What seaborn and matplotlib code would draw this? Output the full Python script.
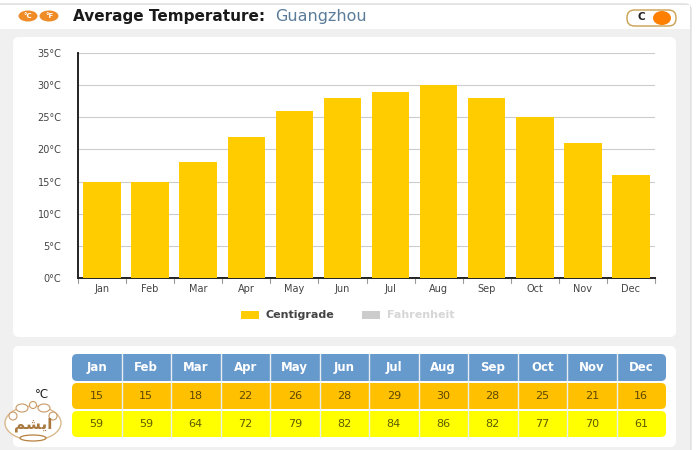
import numpy as np
import pandas as pd
import matplotlib
matplotlib.use("Agg")
import matplotlib.pyplot as plt
import seaborn as sns
from matplotlib.patches import FancyBboxPatch, Rectangle, Ellipse

MONTHS = ["Jan", "Feb", "Mar", "Apr", "May", "Jun", "Jul", "Aug", "Sep", "Oct", "Nov", "Dec"]
CENTIGRADE = [15, 15, 18, 22, 26, 28, 29, 30, 28, 25, 21, 16]
FAHRENHEIT = [59, 59, 64, 72, 79, 82, 84, 86, 82, 77, 70, 61]
YTICKS = [0, 5, 10, 15, 20, 25, 30, 35]

W, H = 700, 450
GOLD = "#ffcc00"

sns.set_theme(style="white")
plt.rcParams["font.family"] = ["DejaVu Sans"]

fig = plt.figure(figsize=(7, 4.5), dpi=100, facecolor="white")

# page layer in pixel coordinates
bg = fig.add_axes([0, 0, 1, 1], zorder=0)
bg.set_xlim(0, W)
bg.set_ylim(H, 0)
bg.axis("off")


def box(ax, x0, y0, x1, y1, color, r=4, ec="none", lw=0, z=1):
    ax.add_patch(FancyBboxPatch((x0 + r, y0 + r), x1 - x0 - 2 * r, y1 - y0 - 2 * r,
                                boxstyle=f"round,pad={r},rounding_size={r}",
                                fc=color, ec=ec, lw=lw, zorder=z))


box(bg, -10, 4, 691, 470, "#f0f0f0", r=6, ec="#dddddd", lw=1)
bg.add_patch(Rectangle((0, 5), 690, 24, fc="white", ec="none", zorder=1.2))
box(bg, 13, 37, 676, 337, "white", r=6, z=2)
box(bg, 13, 346, 676, 447, "white", r=6, z=2)

# header
for cx, s in zip([28, 49], ["°C", "°F"]):
    bg.add_patch(Ellipse((cx, 16), 19, 11, fc="#f08c28", ec="none", zorder=3))
    bg.text(cx, 16, s, ha="center", va="center", fontsize=5, fontweight="bold", color="white", zorder=4)
bg.text(73, 16, "Average Temperature:", ha="left", va="center", fontsize=11,
        fontweight="bold", color="#1a1a1a", zorder=4)
bg.text(275, 16, "Guangzhou", ha="left", va="center", fontsize=11.5, color="#5b7c99", zorder=4)
box(bg, 627, 10, 676, 26, "white", r=7.5, ec="#c9a04e", lw=1, z=3)
bg.text(641, 17, "C", ha="center", va="center", fontsize=7.5, fontweight="bold", color="#222222", zorder=4)
bg.add_patch(Ellipse((662, 18), 18, 14, fc="#ff8000", ec="none", zorder=4))

# bar chart
ax = fig.add_axes([78 / W, 1 - 278 / H, (655 - 78) / W, (278 - 53) / H], zorder=3)
ax.patch.set_alpha(0)
df = pd.DataFrame({"month": MONTHS, "temp": CENTIGRADE})
sns.barplot(data=df, x="month", y="temp", color=GOLD, saturation=1, width=0.78,
            linewidth=0, ax=ax, zorder=3)
ax.set_xlim(-0.5, 11.5)
ax.set_ylim(0, 35)
ax.set_xlabel("")
ax.set_ylabel("")
ax.set_yticks(YTICKS)
ax.set_yticklabels([f"{v}°C" for v in YTICKS], fontsize=7, color="#444444")
ax.set_xticks(np.arange(12))
ax.set_xticklabels(MONTHS, fontsize=7, color="#444444")
ax.yaxis.grid(True, color="#cccccc", lw=0.8)
ax.set_axisbelow(True)
ax.tick_params(axis="x", length=0, pad=4)
ax.tick_params(axis="y", length=0, pad=12)
for i in range(13):
    ax.plot([i - 0.5, i - 0.5], [0, -0.75], color="#999999", lw=0.8, clip_on=False)
for s in ["top", "right"]:
    ax.spines[s].set_visible(False)
for s in ["left", "bottom"]:
    ax.spines[s].set_color("#222222")
    ax.spines[s].set_linewidth(1.4)

# legend
bg.add_patch(Rectangle((241, 311), 18, 8, fc=GOLD, ec="none", zorder=3))
bg.text(265, 315, "Centigrade", ha="left", va="center", fontsize=8, fontweight="bold", color="#444444", zorder=4)
bg.add_patch(Rectangle((362, 311), 18, 8, fc="#cccccc", ec="none", zorder=3))
bg.text(387, 315, "Fahrenheit", ha="left", va="center", fontsize=8, fontweight="bold", color="#d6d6d6", zorder=4)

# table below the chart
x0, cw = 72, 594 / 12
rows = [(354, 381, "#6699cc", MONTHS, "white"),
        (383, 409, "#ffc000", CENTIGRADE, "#5c4700"),
        (411, 437, "#ffff00", FAHRENHEIT, "#5c5c00")]
for top, bot, color, vals, tc in rows:
    box(bg, x0, top, x0 + 12 * cw, bot, color, r=5, z=3)
    for i, v in enumerate(vals):
        if i:
            bg.plot([x0 + i * cw] * 2, [top, bot], color="#e6eef2", lw=1, zorder=4)
        bg.text(x0 + (i + 0.5) * cw, (top + bot) / 2, str(v), ha="center", va="center",
                fontsize=8.5 if vals is MONTHS else 8,
                fontweight="bold" if vals is MONTHS else "normal", color=tc, zorder=5)
bg.text(42, 395, "°C", ha="center", va="center", fontsize=8.5, color="#222222", zorder=4)

# watermark logo
bg.add_patch(Ellipse((33, 423), 56, 34, fc="white", ec="#d9b98c", lw=1, zorder=6))
for cx, cy, ew, eh in [(22, 408, 12, 8), (44, 408, 12, 8), (33, 405, 7, 7), (13, 416, 8, 8), (53, 416, 8, 8)]:
    bg.add_patch(Ellipse((cx, cy), ew, eh, fc="white", ec="#c99a66", lw=0.8, zorder=7))
bg.add_patch(Ellipse((33, 438), 26, 6, fc="white", ec="#b8803f", lw=0.9, zorder=7))
bg.text(33, 425, "\ufee2\ufeb8\ufef3\ufe8d", ha="center", va="center", fontsize=11,
        fontweight="bold", color="#a9783f", zorder=8)

fig.savefig("out.png", dpi=100)
